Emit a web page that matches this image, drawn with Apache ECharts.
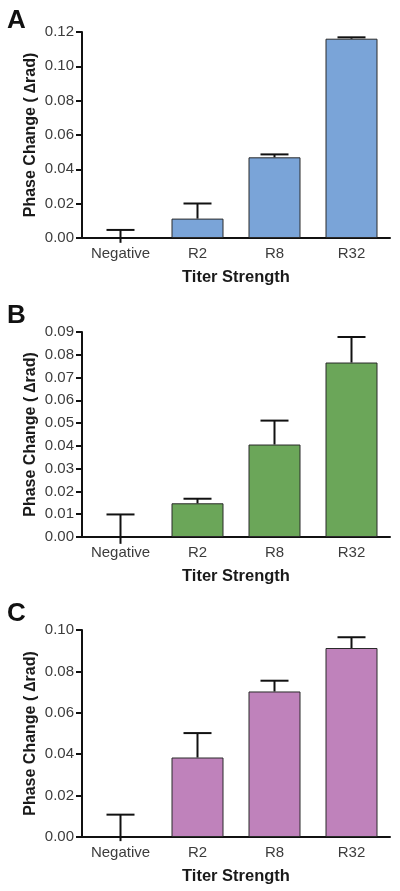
<!DOCTYPE html>
<html>
<head>
<meta charset="utf-8">
<script src="https://cdn.jsdelivr.net/npm/echarts@6/dist/echarts.min.js"></script>
<style>
html,body{margin:0;padding:0;background:#fff;}
#c{width:400px;height:891px;}
</style>
</head>
<body>
<div id="c"></div>
<script>
// ---- data ----
const categories = ['Negative', 'R2', 'R8', 'R32'];
const panelLabels = ['A', 'B', 'C'];
// means
const meansA = [-0.0028, 0.0113, 0.0470, 0.1161];
const meansB = [-0.0030, 0.0148, 0.0406, 0.0766];
const meansC = [-0.0020, 0.0384, 0.0703, 0.0913];
// error (SEM) above the mean
const errA = [0.0075, 0.0088, 0.0017, 0.0008];
const errB = [0.0129, 0.0020, 0.0105, 0.0112];
const errC = [0.0128, 0.0118, 0.0052, 0.0052];
// y axis ranges
const yMaxes = [0.12, 0.09, 0.10];
const yIntervals = [0.02, 0.01, 0.02];
const yTitle = 'Phase Change ( \u2206rad)';
const xTitle = 'Titer Strength';

const colors = ['#7aa4d8', '#6ba659', '#bf82bb'];
const means = [meansA, meansB, meansC];
const errs = [errA, errB, errC];
const grids = [
  {left: 82, right: 10, top: 32, height: 206},
  {left: 82, right: 10, top: 332, height: 205},
  {left: 82, right: 10, top: 630, height: 207}
];
const letterTops = [8, 303, 601];

const font = 'Liberation Sans, Arial, sans-serif';
const chart = echarts.init(document.getElementById('c'), null, {renderer: 'canvas'});

const xAxes = [], yAxes = [], series = [], graphics = [];
for (let i = 0; i < 3; i++) {
  xAxes.push({
    type: 'category', gridIndex: i, data: categories,
    axisLine: {lineStyle: {color: '#111', width: 2}},
    axisTick: {show: false},
    axisLabel: {color: '#3c3c3c', fontSize: 15, fontFamily: font, margin: 8},
    name: xTitle, nameLocation: 'middle', nameGap: 31,
    nameTextStyle: {color: '#1a1a1a', fontSize: 16.5, fontWeight: 'bold', fontFamily: font}
  });
  yAxes.push({
    type: 'value', gridIndex: i, min: 0, max: yMaxes[i], interval: yIntervals[i],
    axisLine: {show: true, lineStyle: {color: '#111', width: 2}},
    axisTick: {show: true, length: 6, lineStyle: {color: '#111', width: 2}},
    splitLine: {show: false},
    axisLabel: {color: '#3c3c3c', fontSize: 15, fontFamily: font, margin: 8,
      formatter: v => v.toFixed(2)},
    name: yTitle, nameLocation: 'middle', nameGap: 51, nameRotate: 90,
    nameMoveOverlap: false,
    nameTextStyle: {color: '#1a1a1a', fontSize: 16, fontWeight: 'bold', fontFamily: font,
      verticalAlign: 'middle'}
  });
  series.push({
    type: 'bar', xAxisIndex: i, yAxisIndex: i, data: means[i], barWidth: 52,
    clip: true,
    itemStyle: {color: colors[i], borderColor: '#2a2a2a', borderWidth: 1}
  });
  const m = means[i], e = errs[i];
  series.push({
    type: 'custom', xAxisIndex: i, yAxisIndex: i, clip: false, z: 5,
    data: m.map((v, k) => [k, v, v + e[k]]),
    renderItem: function (params, api) {
      const x = api.value(0);
      const p0 = api.coord([x, api.value(1)]);
      const p1 = api.coord([x, api.value(2)]);
      const hw = 14;
      return {
        type: 'group',
        children: [
          {type: 'line', shape: {x1: p0[0], y1: p0[1], x2: p1[0], y2: p1[1]},
           style: {stroke: '#111', lineWidth: 2}},
          {type: 'line', shape: {x1: p1[0] - hw, y1: p1[1], x2: p1[0] + hw, y2: p1[1]},
           style: {stroke: '#111', lineWidth: 2}}
        ]
      };
    }
  });
  graphics.push({
    type: 'text', left: 7, top: letterTops[i],
    style: {text: panelLabels[i], fontSize: 26, fontWeight: 'bold', fontFamily: font, fill: '#111'}
  });
}

chart.setOption({
  animation: false,
  backgroundColor: '#fff',
  grid: grids,
  xAxis: xAxes,
  yAxis: yAxes,
  series: series,
  graphic: graphics
});
</script>
</body>
</html>
